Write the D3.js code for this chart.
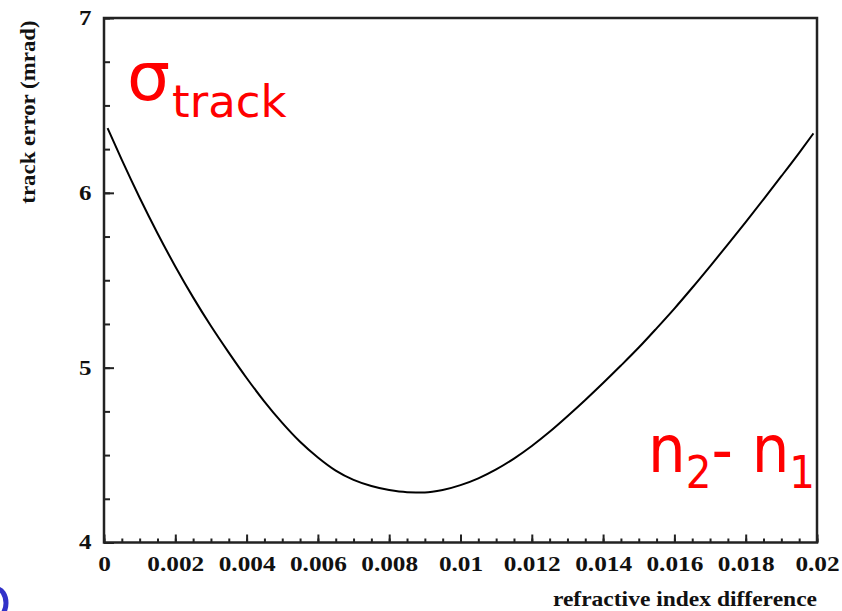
<!DOCTYPE html>
<html>
<head>
<meta charset="utf-8">
<script src="https://cdn.jsdelivr.net/npm/d3@7"></script>
<style>
  body { margin: 0; background: #fff; }
  svg { display: block; }
  .axis text { font-family: "Liberation Serif", "Times New Roman", serif; font-weight: bold; fill: #111; }
  .title { font-family: "Liberation Serif", "Times New Roman", serif; font-weight: bold; fill: #111; }
  .note { font-family: "DejaVu Sans", Tahoma, Verdana, sans-serif; fill: #ff0000; }
</style>
</head>
<body>
<div id="d3-container"></div>
<script>
/* DATA */
const indexDiff = [0.0001, 0.0005, 0.001, 0.0015, 0.002, 0.0025, 0.003, 0.0035, 0.004,
  0.0045, 0.005, 0.0055, 0.006, 0.0065, 0.007, 0.0075, 0.008, 0.0085, 0.009, 0.0095,
  0.01, 0.0105, 0.011, 0.0115, 0.012, 0.0125, 0.013, 0.0135, 0.014, 0.0145, 0.015,
  0.0155, 0.016, 0.0165, 0.017, 0.0175, 0.018, 0.0185, 0.019, 0.0195, 0.0199];
const trackError = [6.37, 6.188, 5.972, 5.769, 5.579, 5.402, 5.238, 5.086, 4.941,
  4.806, 4.684, 4.576, 4.486, 4.411, 4.358, 4.323, 4.300, 4.288, 4.286, 4.300,
  4.328, 4.367, 4.418, 4.480, 4.552, 4.633, 4.722, 4.815, 4.912, 5.012, 5.115,
  5.225, 5.338, 5.457, 5.58, 5.705, 5.833, 5.963, 6.095, 6.229, 6.34];
const xTickValues = [0, 0.002, 0.004, 0.006, 0.008, 0.01, 0.012, 0.014, 0.016, 0.018, 0.02];
const yTickValues = [4, 5, 6, 7];
const xTitle = "refractive index difference";
const yTitle = "track error (mrad)";

/* CONSTANTS */
const width = 842,
  height = 611,
  margin = { top: 18, bottom: 68.5, left: 104, right: 25 };

const data = indexDiff.map((d, i) => ({ x: d, y: trackError[i] }));

const svg = d3.select("#d3-container")
  .append("svg")
  .attr("width", width)
  .attr("height", height);

// + SCALES
const xScale = d3.scaleLinear()
  .domain([0, 0.02])
  .range([margin.left, width - margin.right]);

const yScale = d3.scaleLinear()
  .domain([4, 7])
  .range([height - margin.bottom, margin.top]);

// minor ticks (inward)
const xMinor = d3.axisBottom(xScale)
  .tickValues(d3.range(0, 0.02001, 0.0005))
  .tickSize(-4)
  .tickFormat("");
const yMinor = d3.axisLeft(yScale)
  .tickValues(d3.range(4, 7.001, 0.25))
  .tickSize(-6)
  .tickFormat("");

// major ticks with labels
const xAxis = d3.axisBottom(xScale)
  .tickValues(xTickValues)
  .tickSize(-8)
  .tickPadding(13)
  .tickFormat(d => String(+d.toFixed(4)));
const yAxis = d3.axisLeft(yScale)
  .tickValues(yTickValues)
  .tickSize(-10)
  .tickPadding(10)
  .tickFormat(d3.format("d"));

[xMinor, xAxis].forEach(ax => {
  svg.append("g")
    .attr("class", "axis x-axis")
    .attr("transform", `translate(0,${yScale(4)})`)
    .call(ax)
    .call(g => g.select(".domain").remove())
    .call(g => g.selectAll("line").attr("stroke", "#222").attr("stroke-width", 2))
    .call(g => g.selectAll("text")
      .attr("font-size", 22)
      .attr("font-family", null)
      .attr("transform", "scale(1.15,1)"));
});

[yMinor, yAxis].forEach(ax => {
  svg.append("g")
    .attr("class", "axis y-axis")
    .attr("transform", `translate(${xScale(0)},0)`)
    .call(ax)
    .call(g => g.select(".domain").remove())
    .call(g => g.selectAll("line").attr("stroke", "#222").attr("stroke-width", 2))
    .call(g => g.selectAll("text")
      .attr("font-size", 20)
      .attr("font-family", null)
      .attr("transform", "scale(1.25,1)"));
});

// frame
svg.append("rect")
  .attr("x", xScale(0))
  .attr("y", yScale(7))
  .attr("width", xScale(0.02) - xScale(0))
  .attr("height", yScale(4) - yScale(7))
  .attr("fill", "none")
  .attr("stroke", "#222")
  .attr("stroke-width", 2.5);

// curve
const line = d3.line()
  .x(d => xScale(d.x))
  .y(d => yScale(d.y))
  .curve(d3.curveMonotoneX);

svg.append("path")
  .datum(data)
  .attr("fill", "none")
  .attr("stroke", "#000")
  .attr("stroke-width", 2)
  .attr("d", line);

// axis titles
svg.append("text")
  .attr("class", "title")
  .attr("transform", `translate(${xScale(0.02)},606) scale(1.12,1)`)
  .attr("text-anchor", "end")
  .attr("font-size", 21)
  .text(xTitle);

svg.append("text")
  .attr("class", "title")
  .attr("transform", "translate(35,112) rotate(-90) scale(1.09,1)")
  .attr("text-anchor", "middle")
  .attr("font-size", 21)
  .text(yTitle);

// red annotations
const sigma = svg.append("text")
  .attr("class", "note")
  .attr("x", 127)
  .attr("y", 100)
  .attr("font-size", 68);
sigma.append("tspan").text("σ");
sigma.append("tspan").attr("dx", 2).attr("dy", 17).attr("font-size", 45).text("track");

const diff = svg.append("text")
  .attr("class", "note")
  .attr("transform", "translate(648,472) scale(0.9,1)")
  .attr("font-size", 66);
diff.append("tspan").text("n");
diff.append("tspan").attr("dy", 16).attr("font-size", 45).text("2");
diff.append("tspan").attr("dy", -16).text("- n");
diff.append("tspan").attr("dy", 16).attr("font-size", 45).text("1");

// blue fragment at the bottom-left corner
svg.append("ellipse")
  .attr("cx", -3)
  .attr("cy", 603)
  .attr("rx", 9)
  .attr("ry", 14)
  .attr("fill", "none")
  .attr("stroke", "#3232c8")
  .attr("stroke-width", 5);
</script>
</body>
</html>
